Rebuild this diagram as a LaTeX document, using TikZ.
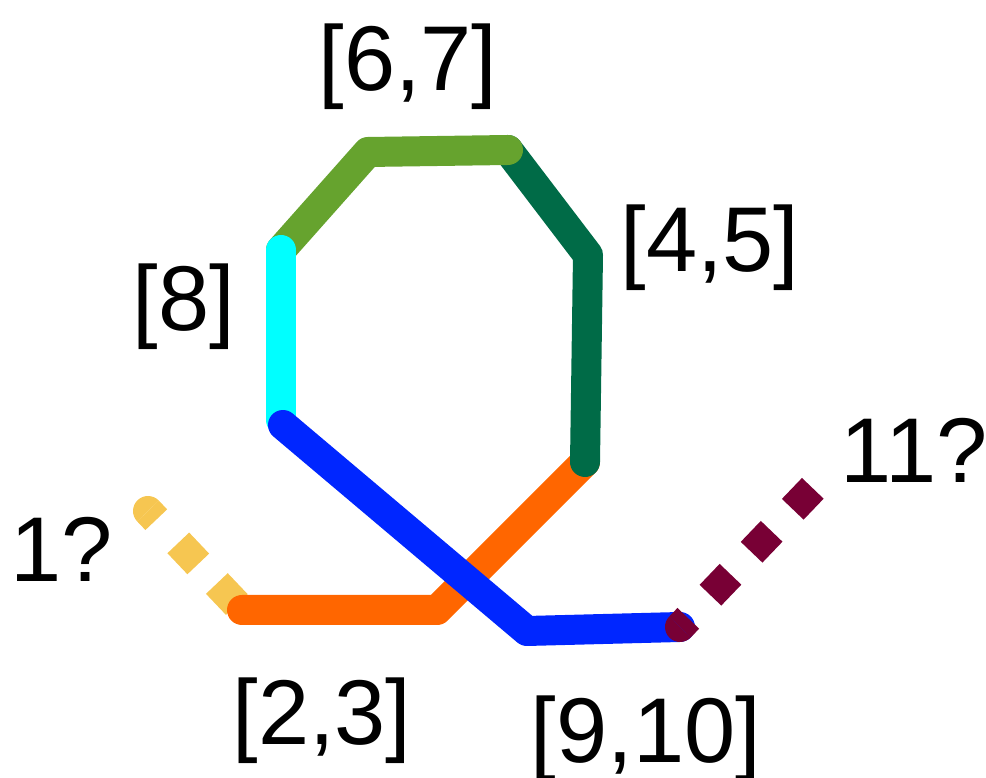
\documentclass[tikz,border=0pt]{standalone}
\usepackage{fontspec}
\setmainfont{Liberation Sans}
\definecolor{cyel}{HTML}{F6C651}
\definecolor{corange}{HTML}{FF6600}
\definecolor{cdgreen}{HTML}{006B47}
\definecolor{clgreen}{HTML}{66A32E}
\definecolor{ccyan}{HTML}{00FFFF}
\definecolor{cblue}{HTML}{0026FF}
\definecolor{cmaroon}{HTML}{780035}
\begin{document}
\begin{tikzpicture}[x=1pt,y=1pt,
  seg/.style={line width=30pt, line cap=round, line join=round},
  dashseg/.style={line width=30pt, line cap=butt},
  lbl/.style={font=\fontsize{92}{110}\selectfont, anchor=base, inner sep=0pt, text=black}]
\useasboundingbox (0,0) rectangle (986,778);
% coordinates
\coordinate (Y0) at (148,267);
\coordinate (O1) at (242,168);
\coordinate (O2) at (437,168);
\coordinate (O3) at (585,316);
\coordinate (G1) at (588,523);
\coordinate (G2) at (508,628);
\coordinate (L2) at (368,626);
\coordinate (L3) at (281,528);
\coordinate (C2) at (281,358);
\coordinate (B1) at (283,353);
\coordinate (B2) at (527,147);
\coordinate (B3) at (680,151);
\coordinate (M1) at (816,293);
% yellow dashed
\fill[cyel] (Y0) ++(43.5:15) arc[start angle=43.5, end angle=223.5, radius=15] -- cycle;
\draw[dashseg, cyel, dash pattern=on 12pt off 32pt on 29pt off 27pt on 29pt off 200pt] (Y0) -- (O1);
% orange
\draw[seg, corange] (O1) -- (O2) -- (O3);
% dark green
\draw[seg, cdgreen] (O3) -- (G1) -- (G2);
% light green
\draw[seg, clgreen] (G2) -- (L2) -- (L3);
% cyan
\draw[seg, ccyan] (L3) -- (C2);
% blue
\draw[seg, cblue] (B1) -- (B2) -- (B3);
% maroon dashed
\fill[cmaroon] (B3) ++(136.2:15) arc[start angle=136.2, end angle=316.2, radius=15] -- cycle;
\draw[dashseg, cmaroon, dash pattern=on 12pt off 32pt on 29pt off 30.5pt on 29pt off 30.5pt on 29pt off 200pt] (B3) -- (M1);
% labels
\node[lbl] (l67) at (408,687) {[6,7]};
\node[lbl] (l45) at (710,506) {[4,5]};
\node[lbl] (l8) at (184,447) {[8]};
\node[lbl] (l1) at (62,196) {1?};
\node[lbl] (l11) at (914,295) {11?};
\node[lbl] (l23) at (322,33) {[2,3]};
\node[lbl] (l910) at (646,15) {[9,10]};
\end{tikzpicture}
\end{document}
